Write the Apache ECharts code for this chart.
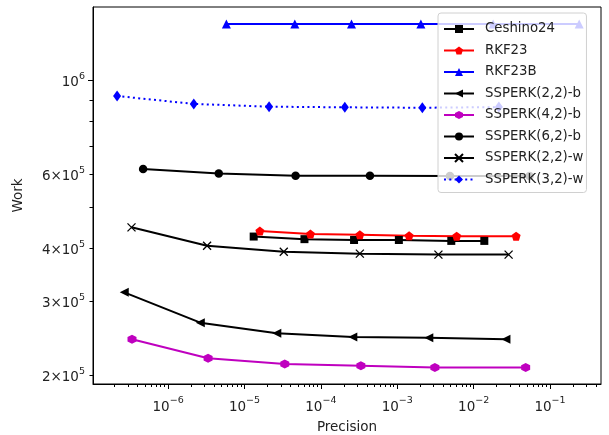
<!DOCTYPE html>
<html>
<head>
<meta charset="utf-8">
<script src="https://cdn.jsdelivr.net/npm/echarts@6/dist/echarts.min.js"></script>
<style>
  html, body { margin: 0; padding: 0; background: #fff; }
  #chart { width: 609px; height: 435px; }
</style>
</head>
<body>
<div id="chart"></div>
<script>
// 数据
const seriesNames = ['Ceshino24', 'RKF23', 'RKF23B', 'SSPERK(2,2)-b', 'SSPERK(4,2)-b', 'SSPERK(6,2)-b', 'SSPERK(2,2)-w', 'SSPERK(3,2)-w']

const ceshinoX = [1.32e-5, 6.1e-5, 2.72e-4, 1.05e-3, 5.1e-3, 1.38e-2]
const ceshinoY = [4.27e5, 4.21e5, 4.19e5, 4.19e5, 4.17e5, 4.17e5]

const rkf23X = [1.59e-5, 7.3e-5, 3.24e-4, 1.43e-3, 6.0e-3, 3.6e-2]
const rkf23Y = [4.40e5, 4.33e5, 4.31e5, 4.29e5, 4.28e5, 4.28e5]

const rkf23bX = [5.8e-6, 4.56e-5, 2.52e-4, 2.04e-3, 1.8e-2, 2.41e-1]
const rkf23bY = [1.36e6, 1.36e6, 1.36e6, 1.36e6, 1.36e6, 1.36e6]

const ssp22bX = [2.67e-7, 2.64e-6, 2.65e-5, 2.62e-4, 2.59e-3, 2.65e-2]
const ssp22bY = [3.15e5, 2.67e5, 2.52e5, 2.47e5, 2.46e5, 2.44e5]

const ssp42bX = [3.37e-7, 3.34e-6, 3.37e-5, 3.34e-4, 3.11e-3, 4.8e-2]
const ssp42bY = [2.44e5, 2.20e5, 2.13e5, 2.11e5, 2.09e5, 2.09e5]

const ssp62bX = [4.71e-7, 4.61e-6, 4.67e-5, 4.39e-4, 4.9e-3, 5.4e-2]
const ssp62bY = [6.17e5, 6.02e5, 5.95e5, 5.95e5, 5.94e5, 5.94e5]

const ssp22wX = [3.32e-7, 3.24e-6, 3.27e-5, 3.24e-4, 3.46e-3, 2.87e-2]
const ssp22wY = [4.49e5, 4.06e5, 3.93e5, 3.89e5, 3.87e5, 3.87e5]

const ssp32wX = [2.15e-7, 2.17e-6, 2.10e-5, 2.06e-4, 2.13e-3, 2.14e-2]
const ssp32wY = [9.19e5, 8.80e5, 8.67e5, 8.64e5, 8.62e5, 8.65e5]

// 坐标轴刻度
const xMin = 1.04e-7
const xMax = 0.465
const yMin = 1.911e5
const yMax = 1.493e6
const xMajorTicks = [1e-7, 1e-6, 1e-5, 1e-4, 1e-3, 1e-2, 1e-1]
const xMajorLabels = ['', '{b|10}{s|−6}', '{b|10}{s|−5}', '{b|10}{s|−4}', '{b|10}{s|−3}', '{b|10}{s|−2}', '{b|10}{s|−1}']
const yMajorTicks = [1e6]
const yLabelTicks = [2e5, 3e5, 4e5, 6e5, 1e6]
const yLabels = ['{b|2×10}{s|5}', '{b|3×10}{s|5}', '{b|4×10}{s|5}', '{b|6×10}{s|5}', '{b|10}{s|6}']
const yMinorTicks = [2e5, 3e5, 4e5, 5e5, 6e5, 7e5, 8e5, 9e5]

// 次刻度 2..9 × 10^n
let xMinorTicks = []
for (let e = -7; e <= -1; e++) {
  for (let m = 2; m <= 9; m++) {
    xMinorTicks.push(m * Math.pow(10, e))
  }
}

function zip(xs, ys) {
  return xs.map((x, i) => [x, ys[i]])
}

const pentagon = 'path://M0,-1L0.951,-0.309L0.588,0.809L-0.588,0.809L-0.951,-0.309Z'
const hexagon = 'path://M0,-1L0.866,-0.5L0.866,0.5L0,1L-0.866,0.5L-0.866,-0.5Z'
const cross = 'path://M0,0L10,10M10,0L0,10'

const rich = {
  b: { fontSize: 13.5, color: '#222', fontFamily: 'DejaVu Sans', lineHeight: 18, verticalAlign: 'bottom' },
  s: { fontSize: 9.5, color: '#222', fontFamily: 'DejaVu Sans', lineHeight: 18, verticalAlign: 'top' }
}

function lineSeries(name, xs, ys, color, symbol, size, extra) {
  return Object.assign({
    name: name,
    type: 'line',
    data: zip(xs, ys),
    symbol: symbol,
    symbolSize: size,
    showSymbol: true,
    color: color,
    itemStyle: { color: color },
    lineStyle: { color: color, width: 2 }
  }, extra || {})
}

const chart = echarts.init(document.getElementById('chart'))

chart.setOption({
  animation: false,
  textStyle: { fontFamily: 'DejaVu Sans' },
  grid: {
    left: 93, right: 8, top: 7, bottom: 51,
    outerBoundsMode: 'none',
    containLabel: false,
    show: true, borderColor: '#000', borderWidth: 1, backgroundColor: 'transparent'
  },
  legend: {
    orient: 'vertical',
    left: 438,
    top: 13,
    padding: [9, 3, 6, 5],
    itemWidth: 30,
    itemHeight: 10,
    itemGap: 7.5,
    backgroundColor: 'rgba(255,255,255,0.8)',
    borderColor: '#d0d0d0',
    borderWidth: 1,
    borderRadius: 3,
    textStyle: { fontSize: 13.3, color: '#222', fontFamily: 'DejaVu Sans', lineHeight: 14, padding: [0, 0, 0, 6] },
    data: seriesNames
  },
  xAxis: [
    {
      type: 'log', min: xMin, max: xMax, position: 'bottom',
      name: 'Precision', nameLocation: 'middle', nameGap: 36,
      nameTextStyle: { fontSize: 13.5, color: '#222' },
      axisLine: { show: true, lineStyle: { color: '#000', width: 1 } },
      axisTick: { show: true, length: 5, customValues: xMajorTicks, lineStyle: { color: '#000', width: 1 } },
      axisLabel: {
        customValues: xMajorTicks, margin: 12, rich: rich,
        formatter: v => xMajorLabels[xMajorTicks.findIndex(t => Math.abs(t - v) / t < 1e-6)] || ''
      },
      splitLine: { show: false }
    },
    {
      type: 'log', min: xMin, max: xMax, position: 'bottom',
      axisLine: { show: false },
      axisTick: { show: true, length: 3, customValues: xMinorTicks, lineStyle: { color: '#000', width: 1 } },
      axisLabel: { show: false },
      splitLine: { show: false }
    }
  ],
  yAxis: [
    {
      type: 'log', min: yMin, max: yMax, position: 'left',
      name: 'Work', nameLocation: 'middle', nameGap: 68,
      nameTextStyle: { fontSize: 13.5, color: '#222' },
      axisLine: { show: true, lineStyle: { color: '#000', width: 1 } },
      axisTick: { show: true, length: 5, customValues: yMajorTicks, lineStyle: { color: '#000', width: 1 } },
      axisLabel: {
        customValues: yLabelTicks, margin: 8, rich: rich,
        formatter: v => yLabels[yLabelTicks.findIndex(t => Math.abs(t - v) / t < 1e-6)] || ''
      },
      splitLine: { show: false }
    },
    {
      type: 'log', min: yMin, max: yMax, position: 'left',
      axisLine: { show: false },
      axisTick: { show: true, length: 3.5, customValues: yMinorTicks, lineStyle: { color: '#000', width: 1 } },
      axisLabel: { show: false },
      splitLine: { show: false }
    }
  ],
  series: [
    lineSeries('Ceshino24', ceshinoX, ceshinoY, '#000000', 'rect', 8),
    lineSeries('RKF23', rkf23X, rkf23Y, '#ff0000', pentagon, 9),
    lineSeries('RKF23B', rkf23bX, rkf23bY, '#0000ff', 'triangle', 9),
    lineSeries('SSPERK(2,2)-b', ssp22bX, ssp22bY, '#000000', 'triangle', 9, { symbolRotate: 90 }),
    lineSeries('SSPERK(4,2)-b', ssp42bX, ssp42bY, '#bf00bf', hexagon, 9),
    lineSeries('SSPERK(6,2)-b', ssp62bX, ssp62bY, '#000000', 'circle', 8.5),
    lineSeries('SSPERK(2,2)-w', ssp22wX, ssp22wY, '#000000', cross, 8, {
      itemStyle: { color: 'none', borderColor: '#000000', borderWidth: 1.3 }
    }),
    lineSeries('SSPERK(3,2)-w', ssp32wX, ssp32wY, '#0000ff', 'diamond', [8, 11], {
      lineStyle: { color: '#0000ff', width: 2, type: [2, 3.3] }
    })
  ]
})
</script>
</body>
</html>
